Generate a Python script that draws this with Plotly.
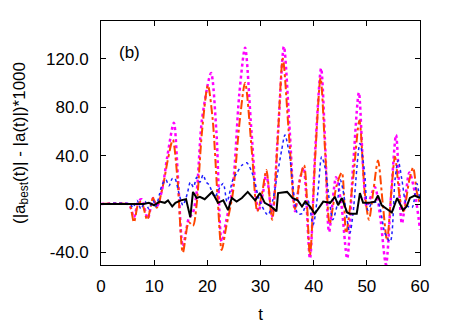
import plotly.graph_objects as go

# magenta dotted series
t_mag = [0, 5, 5.5, 6.2, 7, 7.6, 8.8, 9.8, 10.5, 11.5, 12.5, 13.7, 14.5, 15.4, 16.5, 17.3, 18, 19, 20.7,
         21.7, 22.7, 23.5, 24.8, 26, 27.1, 28.3, 29.6, 30.5, 31.1, 32.2, 33.3, 34.4, 35.5, 36.5, 37.4, 38.1,
         39.3, 40.3, 41.4, 42.2, 42.9, 44.2, 45.2, 46.3, 47.4, 48.5, 49.3, 50, 51.5, 52.5, 53.6, 54.6, 55.5,
         56.6, 58, 59, 60]
v_mag = [0, 0, -2, -11, 2, 4, -12, 5, -2, 12, 40, 67, 20, -35, -12, -7, 10, 70, 108,
         60, -31, -15, 15, 90, 129, 60, -6, 10, 25, -10, 60, 130, 60, -6, 20, 30,
         -45, 45, 112, 45, -23, 22, 0, -45, 30, 92, 30, -2, 14, -10, -50, 10, 57,
         -16, 26, 10, -21]

# orange-red dash-dot series
t_org = [0, 5, 5.5, 6.2, 7, 7.6, 8.7, 9.8, 10.5, 11.7, 12.5, 13.5, 14.4, 15.4, 16.5, 17.3, 18, 19, 20.1,
         21, 22, 22.7, 23.5, 24.8, 26.1, 27.1, 28.4, 29.4, 30.3, 31.1, 32.2, 33.2, 34.2, 35.3, 36.5, 37.4,
         38.2, 39.3, 40.3, 41.3, 42.2, 43, 44.3, 45.3, 46.1, 47.4, 48.6, 49.6, 50.4, 51.2, 52.1, 53, 53.8,
         54.6, 55.3, 56.2, 56.9, 58, 58.7, 59.4, 60]
v_org = [0, 0, -2, -15, 0, 2, -13, 5, -3, 16, 35, 53, 20, -40, -15, -18, 0, 60, 98,
         70, 0, -38, -20, 9, 69, 100, 42, -6, 9, 28, -13, 50, 120, 60, -4, 20,
         32, -42, 40, 104, 40, -16, 15, 26, -24, 20, 69, 10, -13, 10, 36, 0, -30,
         10, 39, 5, -6, 20, 30, 10, 0]

# blue dotted series
t_blu = [0, 5.5, 6, 6.8, 7.5, 8.3, 9, 9.8, 10.3, 11, 11.5, 12.2, 12.8, 13.4, 13.9, 14.6, 15.4, 16.2, 16.8,
         17.4, 18, 18.6, 19.2, 19.8, 20.3, 21.4, 22.4, 23, 23.7, 24.8, 25.6, 26.5, 27.4, 28.4, 29.9, 31.4,
         32.3, 33.2, 34, 34.6, 35.5, 37, 37.8, 38.9, 39.9, 40.8, 41.5, 42.1, 43.1, 43.6, 44.4, 45, 45.5,
         46.8, 47.4, 48.7, 49.6, 50.2, 51, 52.1, 53.4, 54.4, 55.3, 55.9, 56.6, 57.5, 58.5, 59.4, 60]
v_blu = [0, 0, -3, 3, -4, 2, -4, 3, -2, 8, 16, 20, 15, 21, 21, 10, -1, 8, 18,
         14, 22, 18, 24, 18, 16, 6, 14, 17, 2, 20, 26, 32, 34, 26, 2, -9,
         3, 25, 45, 57, 39, -8, -8, 3, -17, 10, 39, 31, -2, -13, -1, 20, 12,
         -24, -8, 50, 25, -5, 1, 1, -24, -31, 20, 36, 20, -1, -3, 17, 2]

# black solid series
t_blk = [0, 8, 9, 10, 11, 12, 12.6, 13.4, 14, 15, 16, 16.8, 17.3, 18, 18.6, 19.5, 20.9, 22, 23, 23.9,
         24.6, 25.5, 26.5, 27.6, 29, 29.9, 30.8, 32, 33, 33.3, 35, 36, 37, 37.8, 38.4, 39.3, 40.2, 41.8,
         43.1, 44, 44.6, 45.3, 46.3, 46.8, 48.1, 48.7, 49.3, 50.5, 51.5, 52.1, 52.8, 53.8, 54.7, 55.7,
         56.8, 57.5, 58.1, 59, 60]
v_blk = [0, 0, 1, -1, 2, 1, 3, -2, 1, 3, 4, -11, 10, 5, 6, 4, 10, 1, 3, -5,
         5, 2, 5, 10, 3, 9, 1, -2, -6, 9, 10, 5, 3, -2, 2, -2, -8, 2,
         1, 6, -1, 5, -7, -8, -8, 9, 1, 1, 2, 7, -1, -4, -7, 5,
         -5, -2, 5, 7, 5]

x_ticks = [0, 10, 20, 30, 40, 50, 60]
y_ticks = [-40, 0, 40, 80, 120]
y_tick_text = ["-40.0", "0.0", "40.0", "80.0", "120.0"]

FONT = "Liberation Sans, Arial, sans-serif"

fig = go.Figure()
fig.add_trace(go.Scatter(x=t_mag, y=v_mag, mode="lines",
                         line=dict(color="#ff00ff", width=2.5, dash="dot", shape="spline", smoothing=0.8)))
fig.add_trace(go.Scatter(x=t_org, y=v_org, mode="lines",
                         line=dict(color="#ff4500", width=2, dash="dashdot", shape="spline", smoothing=0.8)))
fig.add_trace(go.Scatter(x=t_blu, y=v_blu, mode="lines",
                         line=dict(color="#2020ff", width=1.5, dash="dot", shape="spline", smoothing=0.8)))
fig.add_trace(go.Scatter(x=t_blk, y=v_blk, mode="lines",
                         line=dict(color="black", width=2)))

fig.add_annotation(x=3, y=125, xref="x", yref="y", text="(b)", showarrow=False,
                   xanchor="left", yanchor="middle", font=dict(size=17, color="black", family=FONT))

axis_common = dict(showline=True, linecolor="black", linewidth=1, mirror="allticks",
                   ticks="inside", ticklen=5, tickcolor="black", showgrid=False, zeroline=False,
                   automargin=False,
                   tickfont=dict(size=17, color="black", family=FONT))

fig.update_xaxes(range=[0, 60], tickvals=x_ticks, ticktext=[str(v) for v in x_ticks],
                 title=dict(text="t", font=dict(size=17, color="black", family=FONT), standoff=12),
                 ticklabelstandoff=6, **axis_common)
fig.update_yaxes(range=[-50.3, 151], tickvals=y_ticks, ticktext=y_tick_text,
                 title=dict(text="(|a<sub>best</sub>(t)| - |a(t)|)*1000",
                            font=dict(size=17, color="black", family=FONT), standoff=16),
                 ticklabelstandoff=8, **axis_common)

# page body has an 8px default margin, so the figure is sized to fit inside the window
fig.update_layout(width=455, height=316, margin=dict(l=93, r=43, t=13, b=59),
                  plot_bgcolor="white", paper_bgcolor="white", showlegend=False)

fig.write_html("out.html")
